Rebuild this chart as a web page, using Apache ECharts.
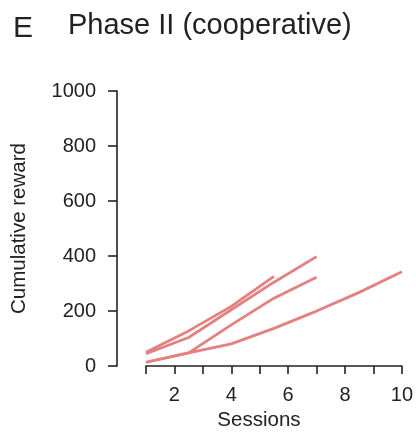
<!DOCTYPE html>
<html lang="en">
<head>
    <meta charset="UTF-8">
    <title></title>
    <style>
        * {
            margin: 0;
            padding: 0;
            box-sizing: border-box;
        }

        html, body {
            width: 416px;
            height: 436px;
            background: #ffffff;
            overflow: hidden;
        }

        #chart {
            width: 416px;
            height: 436px;
        }
    </style>
    <script src="https://cdn.jsdelivr.net/npm/echarts@6/dist/echarts.min.js"></script>
</head>
<body>
<div id="chart"></div>
<script type="text/javascript">
    // sessions sampled every 1.5
    var sessions = [1, 2.5, 4, 5.5, 7, 8.5, 10]

    var rewardA = [50, 128, 217, 326]
    var rewardB = [45, 104, 205, 305, 398]
    var rewardC = [14, 48, 150, 247, 323]
    var rewardD = [14, 48, 81, 137, 200, 268, 343]

    var yTicks = [0, 200, 400, 600, 800, 1000]
    var xLabels = [2, 4, 6, 8, 10]

    var font = '"Liberation Sans", Arial, sans-serif'
    var ink = '#222222'
    var lineColor = '#e58080'

    function pairUp(values) {
        return values.map(function (v, i) {
            return [sessions[i], v]
        })
    }

    var myChart = echarts.init(document.getElementById('chart'))

    var seriesList = [rewardA, rewardB, rewardC, rewardD].map(function (vals) {
        return {
            type: 'line',
            data: pairUp(vals),
            symbol: 'none',
            lineStyle: {color: lineColor, width: 2.8},
            animation: false
        }
    })

    var option = {
        backgroundColor: '#ffffff',
        title: [
            {
                text: 'E',
                left: 8,
                top: 9,
                textStyle: {fontFamily: font, fontSize: 30, fontWeight: 'normal', color: ink}
            },
            {
                text: 'Phase II (cooperative)',
                left: 63,
                top: 6,
                textStyle: {fontFamily: font, fontSize: 29, fontWeight: 'normal', color: ink}
            }
        ],
        grid: {
            left: 146,
            right: 11,
            top: 91,
            bottom: 66
        },
        xAxis: {
            type: 'value',
            min: 1,
            max: 10,
            interval: 1,
            name: 'Sessions',
            nameLocation: 'middle',
            nameGap: 43,
            nameTextStyle: {fontFamily: font, fontSize: 20.5, color: ink, padding: [0, 30, 0, 0]},
            axisLine: {onZero: false, lineStyle: {color: ink, width: 1.6}},
            axisTick: {length: 8, lineStyle: {color: ink, width: 1.6}},
            axisLabel: {
                margin: 19,
                fontFamily: font,
                fontSize: 20,
                color: ink,
                formatter: function (v) {
                    return xLabels.indexOf(v) >= 0 ? String(v) : ''
                }
            },
            splitLine: {show: false}
        },
        yAxis: {
            type: 'value',
            min: yTicks[0],
            max: yTicks[yTicks.length - 1],
            interval: 200,
            offset: 29,
            name: 'Cumulative reward',
            nameLocation: 'middle',
            nameGap: 87,
            nameTextStyle: {fontFamily: font, fontSize: 20.5, color: ink},
            axisLine: {show: true, lineStyle: {color: ink, width: 1.6}},
            axisTick: {show: true, length: 9, lineStyle: {color: ink, width: 1.6}},
            axisLabel: {
                margin: 21,
                fontFamily: font,
                fontSize: 20,
                color: ink,
                formatter: function (v) {
                    return String(v)
                }
            },
            splitLine: {show: false}
        },
        series: seriesList
    }

    myChart.setOption(option)
</script>
</body>
</html>
